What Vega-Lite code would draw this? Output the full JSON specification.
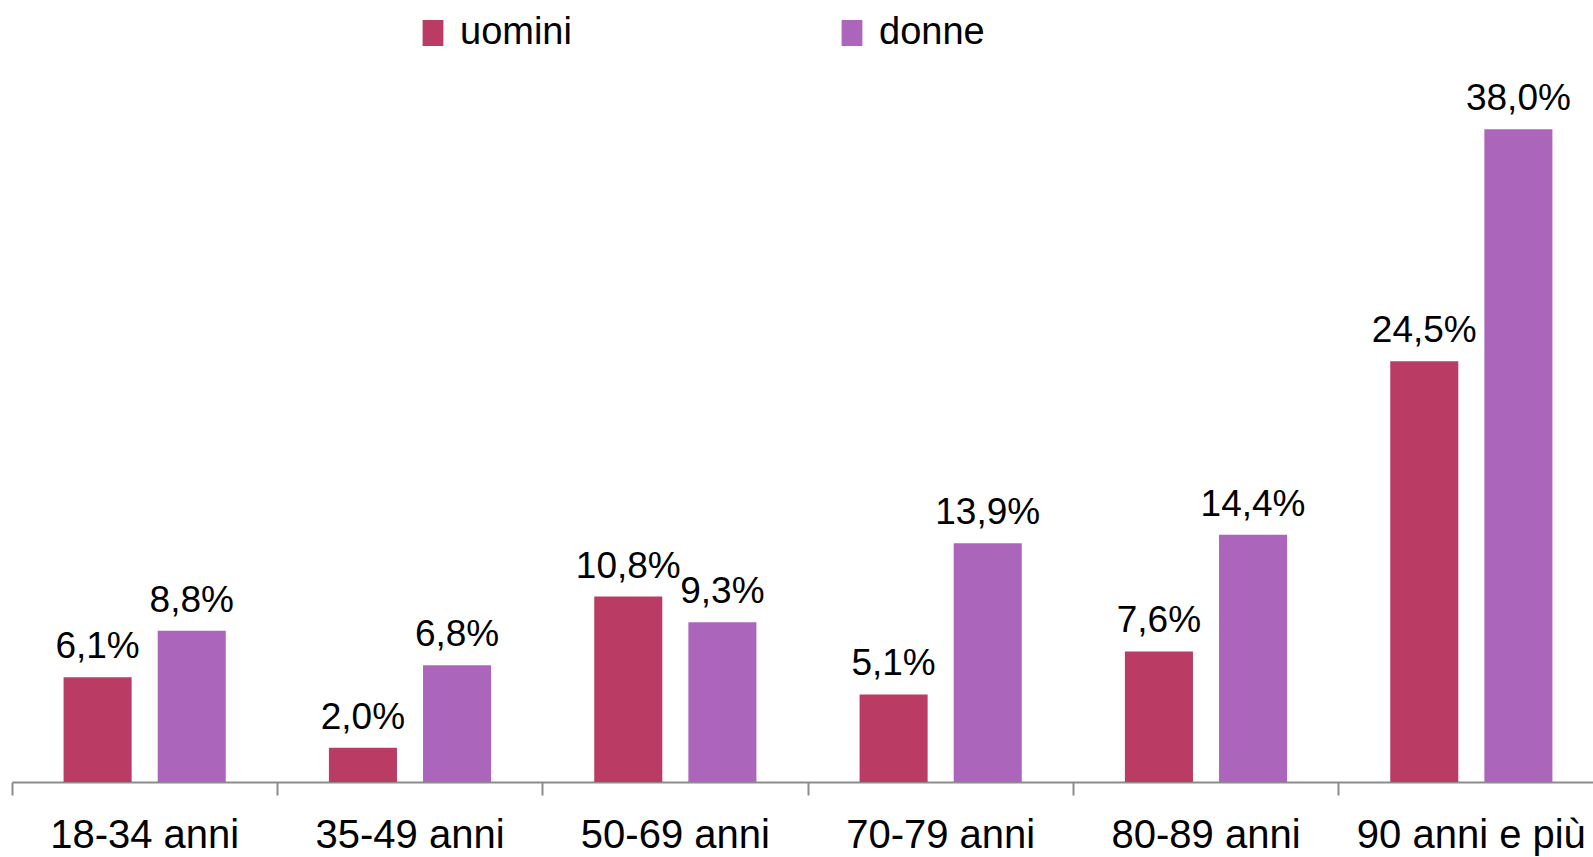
{
  "$schema": "https://vega.github.io/schema/vega-lite/v6.json",
  "autosize": {"type": "none"},
  "width": 1581,
  "height": 687,
  "padding": {"left": 12, "top": 95, "right": 0, "bottom": 75},
  "background": "white",
  "config": {
    "view": {"stroke": null},
    "font": "Liberation Sans"
  },
  "data": {
    "values": [
      {"eta": "18-34 anni", "sesso": "uomini", "valore": 6.1, "label": "6,1%"},
      {"eta": "18-34 anni", "sesso": "donne", "valore": 8.8, "label": "8,8%"},
      {"eta": "35-49 anni", "sesso": "uomini", "valore": 2.0, "label": "2,0%"},
      {"eta": "35-49 anni", "sesso": "donne", "valore": 6.8, "label": "6,8%"},
      {"eta": "50-69 anni", "sesso": "uomini", "valore": 10.8, "label": "10,8%"},
      {"eta": "50-69 anni", "sesso": "donne", "valore": 9.3, "label": "9,3%"},
      {"eta": "70-79 anni", "sesso": "uomini", "valore": 5.1, "label": "5,1%"},
      {"eta": "70-79 anni", "sesso": "donne", "valore": 13.9, "label": "13,9%"},
      {"eta": "80-89 anni", "sesso": "uomini", "valore": 7.6, "label": "7,6%"},
      {"eta": "80-89 anni", "sesso": "donne", "valore": 14.4, "label": "14,4%"},
      {"eta": "90 anni e più", "sesso": "uomini", "valore": 24.5, "label": "24,5%"},
      {"eta": "90 anni e più", "sesso": "donne", "valore": 38.0, "label": "38,0%"}
    ]
  },
  "encoding": {
    "x": {
      "field": "eta",
      "type": "nominal",
      "sort": null,
      "scale": {"range": [0, 1592], "paddingInner": 0, "paddingOuter": 0},
      "axis": {
        "title": null,
        "labelAngle": 0,
        "labelFont": "Liberation Sans",
        "labelFontSize": 40,
        "labelColor": "black",
        "labelBaseline": "alphabetic",
        "labelPadding": 52,
        "labelLimit": 0,
        "tickSize": 13,
        "tickWidth": 2,
        "tickColor": "#8c8c8c",
        "domainColor": "#8c8c8c",
        "domainWidth": 2,
        "bandPosition": 0,
        "labelOverlap": false
      }
    },
    "xOffset": {
      "field": "sesso",
      "type": "nominal",
      "sort": ["uomini", "donne"],
      "scale": {"paddingInner": 0.277, "paddingOuter": 0.548}
    },
    "y": {
      "field": "valore",
      "type": "quantitative",
      "scale": {"domain": [0, 40], "nice": false},
      "axis": null
    }
  },
  "layer": [
    {
      "mark": {"type": "bar"},
      "encoding": {
        "color": {
          "field": "sesso",
          "type": "nominal",
          "sort": ["uomini", "donne"],
          "scale": {"domain": ["uomini", "donne"], "range": ["#BA3C64", "#AB66BC"]},
          "legend": {
            "title": null,
            "orient": "none",
            "direction": "horizontal",
            "legendX": 402,
            "legendY": -81,
            "symbolType": "M-0.8,-1H0.8V1H-0.8Z",
            "symbolSize": 676,
            "symbolStrokeWidth": 0,
            "labelFont": "Liberation Sans",
            "labelFontSize": 38,
            "labelColor": "black",
            "labelOffset": 8,
            "columnPadding": 261,
            "labelLimit": 400
          }
        }
      }
    },
    {
      "mark": {
        "type": "text",
        "baseline": "alphabetic",
        "dy": -19,
        "font": "Liberation Sans",
        "fontSize": 37,
        "color": "black"
      },
      "encoding": {
        "text": {"field": "label"}
      }
    }
  ]
}
